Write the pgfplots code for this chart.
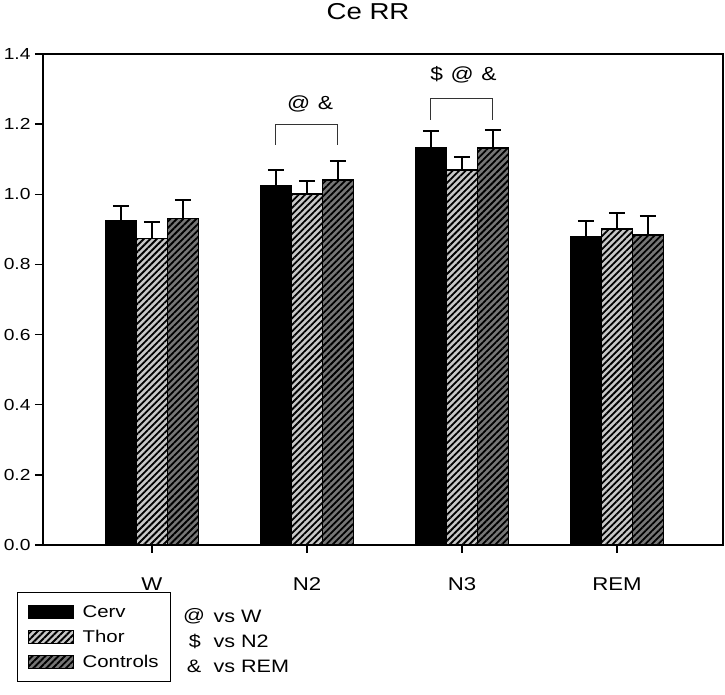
\documentclass[border=0pt]{standalone}
\usepackage{fontspec}
\setmainfont[FakeStretch=1.2]{Liberation Sans}
\usepackage{pgfplots}
\usepackage{pgfplotstable}
\pgfplotsset{compat=1.18}
\usetikzlibrary{patterns.meta}
\definecolor{thorfill}{HTML}{C8C8C8}
\definecolor{ctrlfill}{HTML}{767676}

\pgfplotstableread{
x cerv cerve thor thore ctrl ctrle
0 0.924 0.043 0.875 0.046 0.930 0.054
1 1.024 0.045 1.001 0.037 1.041 0.054
2 1.132 0.048 1.069 0.037 1.132 0.051
3 0.878 0.047 0.901 0.046 0.884 0.054
}\datatable

\begin{document}
\begin{tikzpicture}
\begin{axis}[
  at={(43bp,150bp)}, anchor=south west,
  scale only axis, width=680bp, height=491bp,
  xmin=-0.703, xmax=3.684, ymin=0, ymax=1.4,
  ybar=0pt, bar width=31bp,
  axis line style={line width=1.5bp},
  xtick={0,1,2,3}, xticklabels={W,N2,N3,REM},
  ytick={0,0.2,0.4,0.6,0.8,1.0,1.2,1.4},
  yticklabel style={/pgf/number format/fixed, /pgf/number format/fixed zerofill, /pgf/number format/precision=1,
    /pgf/number format/assume math mode=true, font=\fontsize{16bp}{18bp}\selectfont, xshift=-1bp},
  xticklabel style={font=\fontsize{18.5bp}{20bp}\selectfont, yshift=-21bp},
  tick align=outside, tick pos=left, major tick length=8bp,
  tick style={line width=1.5bp, black},
  title={Ce RR},
  title style={at={(axis description cs:0.478,1.0733)}, anchor=center, font=\fontsize{23bp}{25bp}\selectfont},
  legend image code/.code={\draw[#1, line width=1bp] (0bp,-6.5bp) rectangle (45bp,6.5bp);},
  legend style={at={(axis description cs:-0.0382,-0.0957)}, anchor=north west, draw=black, line width=1.2bp,
    inner xsep=10bp, inner ysep=11bp, row sep=7bp, font=\fontsize{17bp}{19bp}\selectfont, cells={anchor=west},
    /tikz/every odd column/.append style={column sep=7bp}},
  error bars/y dir=plus, error bars/y explicit,
  error bars/error bar style={line width=1.9bp, black},
  error bars/error mark options={rotate=90, mark size=8bp, line width=1.9bp, black},
]
\addplot[fill=black, draw=black, line width=1.2bp]
  table[x=x, y=cerv, y error=cerve] {\datatable};
\addplot[draw=black, line width=1.2bp,
  preaction={fill=thorfill}, pattern={Lines[angle=45,distance=4.6bp,line width=1.8bp]}, pattern color=black]
  table[x=x, y=thor, y error=thore] {\datatable};
\addplot[draw=black, line width=1.2bp,
  preaction={fill=ctrlfill}, pattern={Lines[angle=45,distance=4.6bp,line width=1.8bp]}, pattern color=black]
  table[x=x, y=ctrl, y error=ctrle] {\datatable};
\legend{Cerv,Thor,Controls}
\draw[line width=1bp, black!80] (axis cs:0.8,1.141) |- (axis cs:1.2,1.198) -- (axis cs:1.2,1.141);
\draw[line width=1bp, black!80] (axis cs:1.8,1.212) |- (axis cs:2.2,1.272) -- (axis cs:2.2,1.212);
\node[font=\fontsize{19bp}{21bp}\selectfont] at (axis cs:1.02,1.257) {@\hspace{0.4em}\&};
\node[font=\fontsize{19bp}{21bp}\selectfont] at (axis cs:2.01,1.340) {\$\hspace{0.4em}@\hspace{0.4em}\&};
\end{axis}
\begin{scope}[font=\fontsize{18bp}{20bp}\selectfont]
\node at (194bp,79bp) {@};
\node at (195bp,54bp) {\$};
\node at (194bp,29bp) {\&};
\node[anchor=west] at (210bp,79bp) {vs W};
\node[anchor=west] at (210bp,54bp) {vs N2};
\node[anchor=west] at (210bp,29bp) {vs REM};
\end{scope}
\pgfresetboundingbox
\path (0,0) rectangle (725bp,695bp);
\end{tikzpicture}
\end{document}
